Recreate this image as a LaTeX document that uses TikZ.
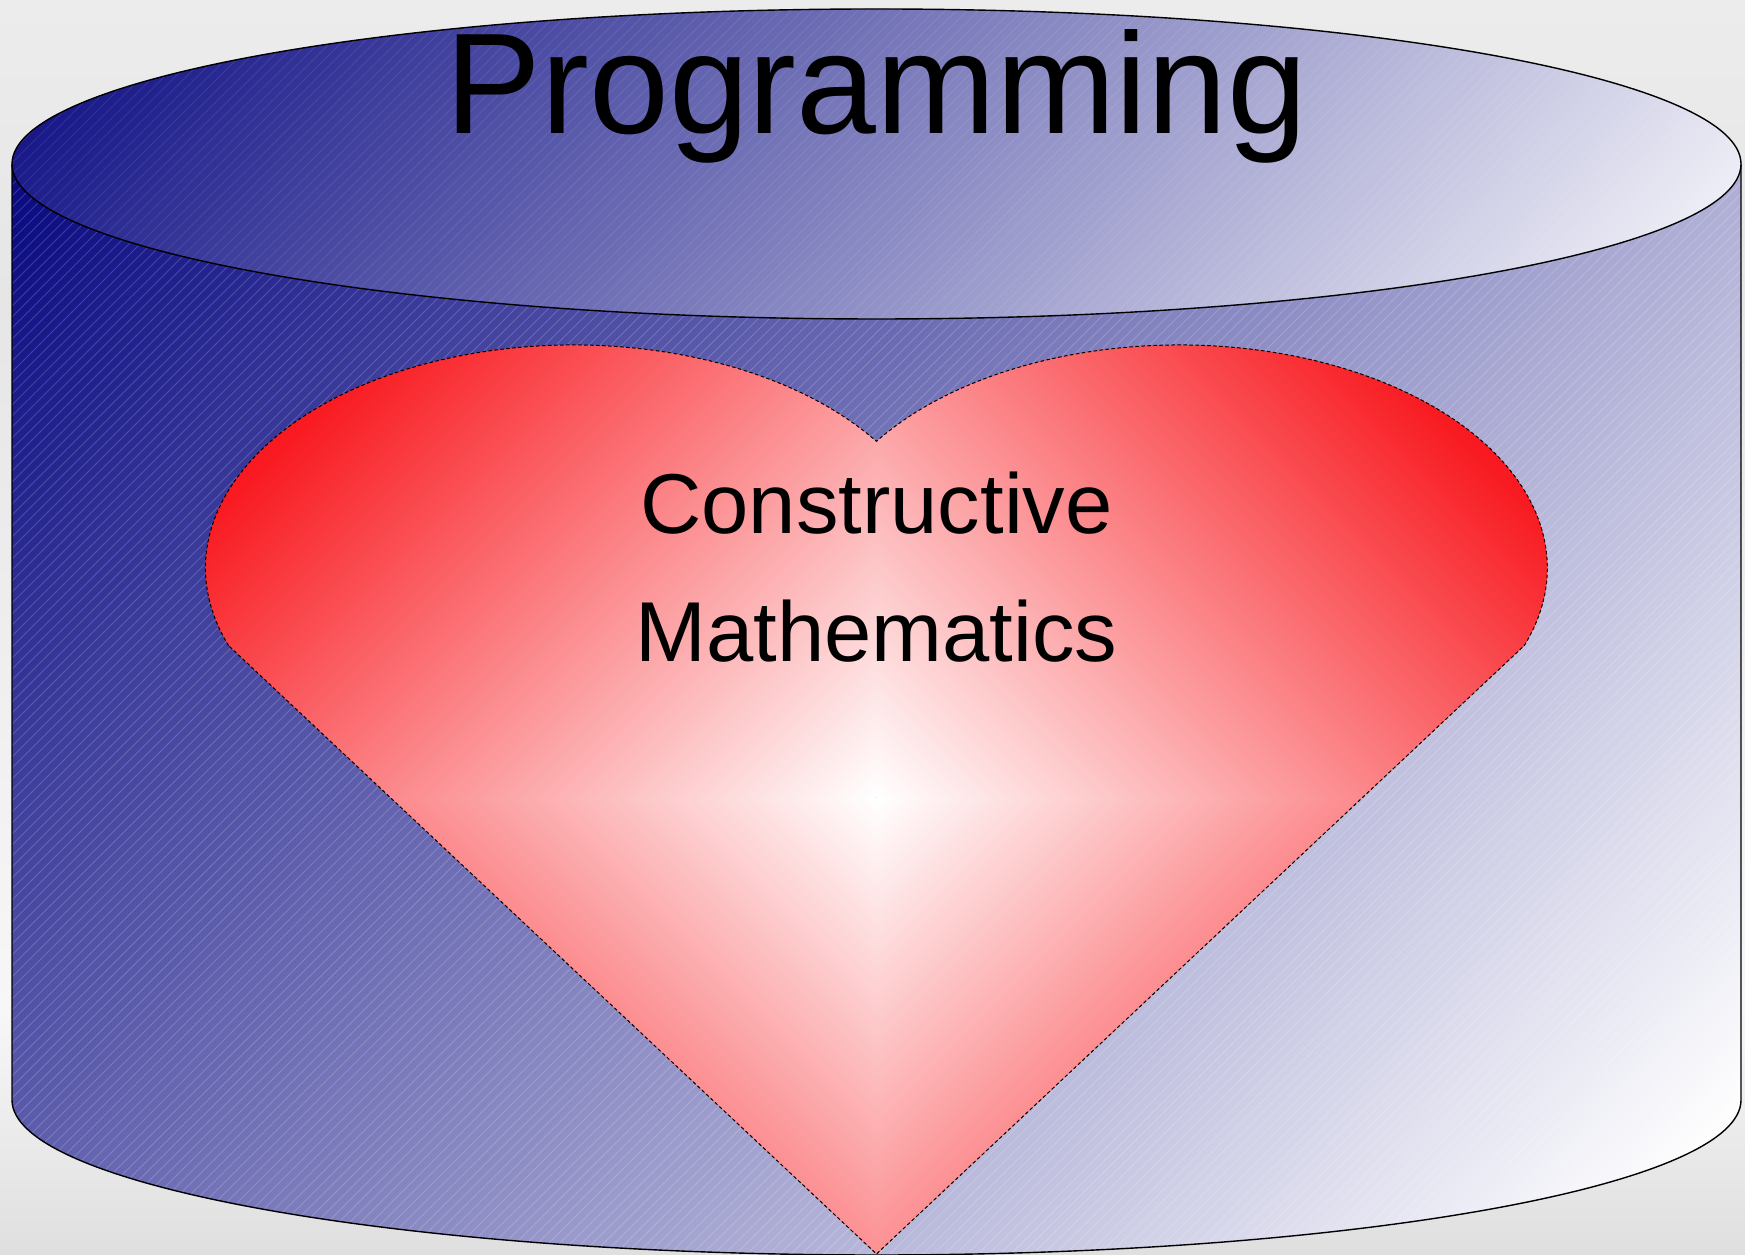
\documentclass[tikz,border=0pt]{standalone}
\usepackage{fontspec}
\setmainfont{Liberation Sans}
\definecolor{navyd}{RGB}{6,6,128}
\definecolor{heartred}{RGB}{248,26,32}
\definecolor{bgA}{HTML}{DFDFDF}
\definecolor{bgB}{HTML}{F7F7F7}
\definecolor{bgC}{HTML}{E6E6E6}
\definecolor{bgD}{HTML}{ECECEC}
\pgfdeclareverticalshading{bgshade}{100bp}{color(0bp)=(bgA); color(25bp)=(bgA); color(34.76bp)=(bgB); color(63.05bp)=(bgC); color(75bp)=(bgD); color(100bp)=(bgD)}
\begin{document}
\begin{tikzpicture}[x=1pt,y=1pt,
  outline/.style={draw=black,line width=1.4pt},
  hatchline/.style={draw=white,line width=0.8pt,draw opacity=0.18},
  heartline/.style={draw=black,line width=1pt,dash pattern=on 3.5pt off 2.5pt},
  bigtext/.style={font=\fontsize{143.5}{170}\selectfont,inner sep=0pt,anchor=base},
  midtext/.style={font=\fontsize{85}{102}\selectfont,inner sep=0pt,anchor=base},
  diag/.style={left color=white,right color=heartred}]
\useasboundingbox (0,0) rectangle (1745,1255);
\shade[shading=bgshade] (0,0) rectangle (1745,1255);

% cylinder body
\begin{scope}
\clip (12,1091) -- (12,155) arc[start angle=180,end angle=360,x radius=864.5,y radius=155] -- (1741,1091) arc[start angle=0,end angle=180,x radius=864.5,y radius=155] -- cycle;
\begin{scope}[transform canvas={rotate around={-41.8:(876.5,623)}}]
\shade[left color=navyd,right color=white] (-92,-1377) rectangle (1845,2623);
\end{scope}
\foreach \c in {-1300,-1289,...,1745}{\draw[hatchline] (\c,0) -- ++(1300,1300);}
\end{scope}
\draw[outline] (12,1091) -- (12,155) arc[start angle=180,end angle=360,x radius=864.5,y radius=155] -- (1741,1091);

% top ellipse
\begin{scope}
\clip (876.5,1091) ellipse [x radius=864.5,y radius=155];
\begin{scope}[transform canvas={rotate around={-42:(876.5,1091)}}]
\shade[left color=navyd,right color=white] (117.5,91) rectangle (1635.5,2091);
\end{scope}
\foreach \c in {-400,-389,...,1745}{\draw[hatchline,draw opacity=0.09] (\c,900) -- ++(400,400);}
\end{scope}
\draw[outline] (876.5,1091) ellipse [x radius=864.5,y radius=155];

% heart
\fill[heartred] (228.6,609.3) arc[start angle=200.4,end angle=34.6,x radius=368,y radius=223] arc[start angle=145.4,end angle=-20.4,x radius=368,y radius=223] -- (876.5,1) -- cycle;
\begin{scope}
\clip (228.6,609.3) arc[start angle=200.4,end angle=34.6,x radius=368,y radius=223] arc[start angle=145.4,end angle=-20.4,x radius=368,y radius=223] -- (876.5,1) -- cycle;
\foreach \ang/\qx/\qy in {45/1900/1300, 135/-100/1300, 225/-100/-100, 315/1900/-100}{
  \begin{scope}
  \clip (876.5,457) rectangle (\qx,\qy);
  \begin{scope}[transform canvas={rotate around={\ang:(876.5,457)}}]
  \shade[diag] (876.5,-543) rectangle (1548.5,1457);
  \end{scope}
  \end{scope}
}
\end{scope}
\draw[heartline] (228.6,609.3) arc[start angle=200.4,end angle=34.6,x radius=368,y radius=223] arc[start angle=145.4,end angle=-20.4,x radius=368,y radius=223] -- (876.5,1) -- cycle;

% texts
\node[bigtext] (prog) at (876.5,1121) {Programming};
\node[midtext] (cons) at (876.5,721) {Constructive};
\node[midtext] (math) at (876.5,593) {Mathematics};
\end{tikzpicture}
\end{document}
